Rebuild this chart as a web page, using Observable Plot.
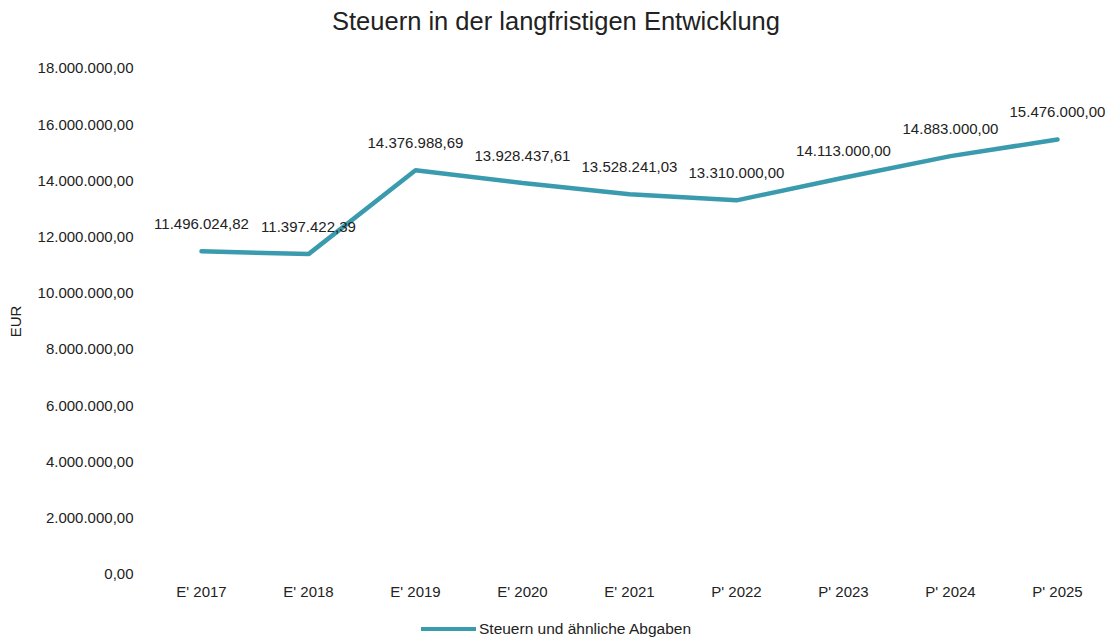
<!DOCTYPE html>
<html>
<head>
<meta charset="utf-8">
<script src="https://cdn.jsdelivr.net/npm/d3@7"></script>
<script src="https://cdn.jsdelivr.net/npm/@observablehq/plot@0.6"></script>
<style>
  html, body { margin: 0; padding: 0; background: #fff; }
  body { width: 1112px; height: 638px; overflow: hidden; font-family: "Liberation Sans", Arial, sans-serif; }
  #title { height: 40px; line-height: 42px; text-align: center; font-size: 25.5px; color: #222; }
  #legend { height: 34px; display: flex; justify-content: center; align-items: center; font-size: 15.5px; color: #222; }
  #legend .sw { width: 55px; height: 4px; background: #3b9bae; margin-right: 3px; }
</style>
</head>
<body>
<div id="title">Steuern in der langfristigen Entwicklung</div>
<div id="chart"></div>
<div id="legend"><span class="sw"></span><span>Steuern und ähnliche Abgaben</span></div>
<script>
const categories = ["E' 2017", "E' 2018", "E' 2019", "E' 2020", "E' 2021", "P' 2022", "P' 2023", "P' 2024", "P' 2025"];
const values = [11496024.82, 11397422.39, 14376988.69, 13928437.61, 13528241.03, 13310000.00, 14113000.00, 14883000.00, 15476000.00];
const yTicks = [0, 2000000, 4000000, 6000000, 8000000, 10000000, 12000000, 14000000, 16000000, 18000000];
const seriesName = "Steuern und ähnliche Abgaben";

const de = d3.formatLocale({decimal: ",", thousands: ".", grouping: [3], currency: ["", " €"]});
const fmt = de.format(",.2f");
const data = categories.map((c, i) => ({cat: c, value: values[i]}));

const chart = Plot.plot({
  width: 1112,
  height: 572,
  marginTop: 28,
  marginBottom: 38,
  marginLeft: 146,
  marginRight: 1,
  style: {fontFamily: "Liberation Sans, Arial, sans-serif", fontSize: "15px", color: "#222", background: "#fff"},
  x: {type: "point", domain: categories, padding: 0.5, label: null},
  y: {domain: [0, 18000000], label: null},
  marks: [
    Plot.axisX({tickSize: 0, tickPadding: 12, label: null, fontSize: 15}),
    Plot.axisY({ticks: yTicks, tickSize: 0, tickPadding: 13, tickFormat: fmt, label: "EUR", labelAnchor: "center", labelOffset: 136, labelArrow: "none", fontSize: 15}),
    Plot.line(data, {x: "cat", y: "value", stroke: "#3b9bae", strokeWidth: 4.5, strokeLinejoin: "miter"}),
    Plot.text(data, {x: "cat", y: "value", text: d => fmt(d.value), dy: -27, fontSize: 15, fill: "#222"})
  ]
});
document.getElementById("chart").appendChild(chart);
</script>
</body>
</html>
